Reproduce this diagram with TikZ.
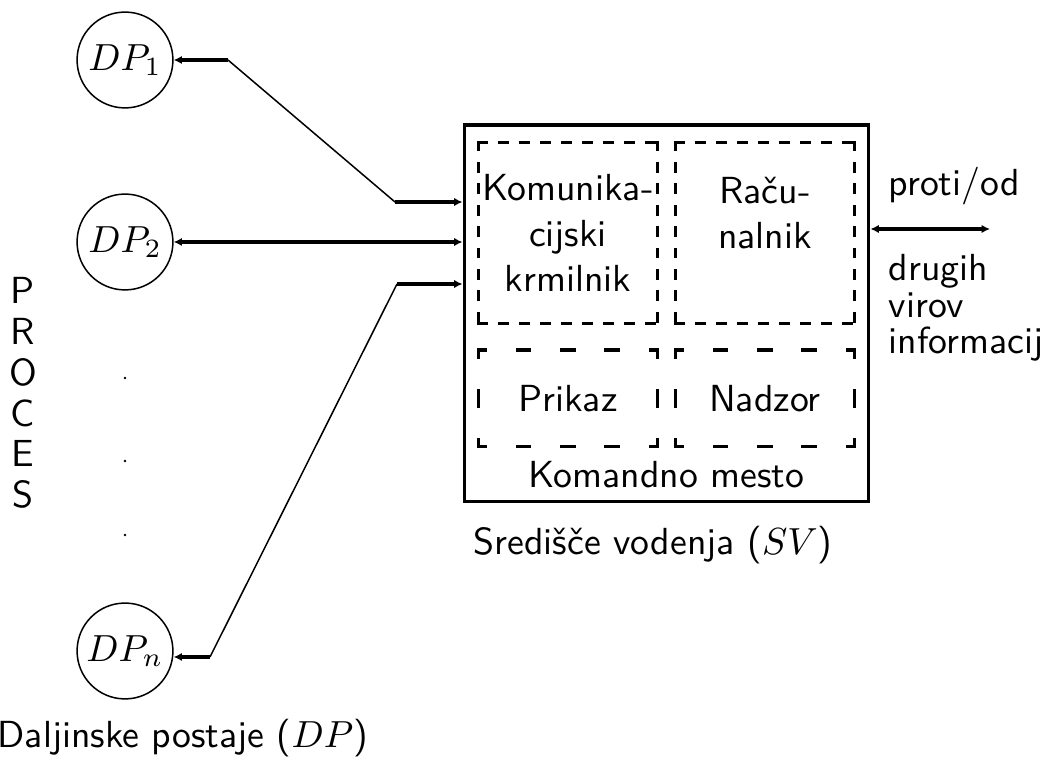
\documentclass[tikz,border=0pt]{standalone}
\usetikzlibrary{arrows.meta}
\begin{document}
\begin{tikzpicture}[x=0.265pt, y=-0.265pt, >={Latex[length=2.2pt,width=2.2pt]}, font=\sffamily]

\tikzset{
  station/.style={circle, draw, line width=0.4pt, minimum size=25.4pt, inner sep=0pt},
  mainbox/.style={rectangle, draw, line width=0.8pt,
    minimum width=107.3pt, minimum height=99.9pt, inner sep=0pt},
  subbox/.style={rectangle, minimum width=47.2pt, inner sep=0pt, outer sep=0pt, align=center},
  upperbox/.style={subbox, minimum height=48.2pt},
  lowerbox/.style={subbox, minimum height=25.7pt},
  dashframe/.style={line width=0.8pt, line cap=rect},
  hdashU/.style={dashframe, dash pattern=on 2.1pt off 3.44pt},
  vdashU/.style={dashframe, dash pattern=on 2.1pt off 3.57pt},
  hdashL/.style={dashframe, dash pattern=on 3.4pt off 8.39pt, dash phase=1.7pt},
  vdashL/.style={dashframe, dash pattern=on 4.2pt off 8.65pt, dash phase=2.1pt},
  plain/.style={inner sep=0pt},
  arrow/.style={->, line width=0.8pt},
  dblarrow/.style={<->, line width=0.8pt},
  link/.style={line width=0.4pt}
}

\useasboundingbox (0,0) rectangle (1044,761);

% ==========================
% Remote stations (left)
% ==========================
\node[station] (dp1) at (125,60) {$DP_1$};
\node[station] (dp2) at (125,242) {$DP_2$};
\node[station] (dpn) at (125,651) {$DP_n$};

\foreach \y in {378,461,535}
  \fill (125,\y) circle (1.4);

\node[plain, anchor=north, align=center, font=\sffamily\fontsize{10}{10.8}\selectfont]
  (proces) at (23,277) {P\\R\\O\\C\\E\\S};

\node[plain, anchor=base west] (dplabel) at (-3,748) {Daljinske postaje ($DP$)};

% ==========================
% Control centre
% ==========================
\node[mainbox] (sv) at (666.5,313.5) {};
\node[upperbox] (kom) at (568,233) {Komunika-\\cijski\\krmilnik};
\node[upperbox] (rac) at (765,233) {};
\node[plain, anchor=north, align=center] (ractxt) at (765,176) {Raču-\\nalnik};
\node[lowerbox] (pri) at (568,398.5) {Prikaz};
\node[lowerbox] (nad) at (765,398.5) {Nadzor};
\node[plain, anchor=base] (kmesto) at (666.5,488) {Komandno mesto};

% dashed frames, one side at a time
\foreach \b in {kom,rac} {
  \draw[hdashU] (\b.north west) -- (\b.north east) (\b.south west) -- (\b.south east);
  \draw[vdashU] (\b.north west) -- (\b.south west) (\b.north east) -- (\b.south east);
}
\foreach \b in {pri,nad} {
  \draw[hdashL] (\b.north west) -- (\b.north east) (\b.south west) -- (\b.south east);
  \draw[vdashL] (\b.north west) -- (\b.south west) (\b.north east) -- (\b.south east);
}

\node[plain, anchor=base west] (svlabel) at (473,555) {Središče vodenja ($SV$)};

% ==========================
% Links
% ==========================
\coordinate (b1) at (228,60);
\coordinate (c1) at (395,202);
\coordinate (c3) at (397,284);
\coordinate (bn) at (210,657);
\coordinate (ext) at (990,229);

\draw[arrow] (b1) -- (dp1);
\draw[link] (b1) -- (c1);
\draw[arrow] (c1) -- (c1 -| sv.west);

\draw[dblarrow] (dp2) -- (dp2 -| sv.west);

\draw[arrow] (c3) -- (c3 -| sv.west);
\draw[link] (c3) -- (bn);
\draw[arrow] (bn) -- (bn -| dpn.east);

% Outside sources
\draw[dblarrow] (ext -| sv.east) -- (ext);
\node[plain, anchor=base west] (proti) at (888,196) {proti/od};
\node[plain, anchor=north west, align=left, font=\sffamily\fontsize{10}{9.6}\selectfont]
  (drugih) at (888,254) {drugih\\virov\\informacij};

\end{tikzpicture}
\end{document}
